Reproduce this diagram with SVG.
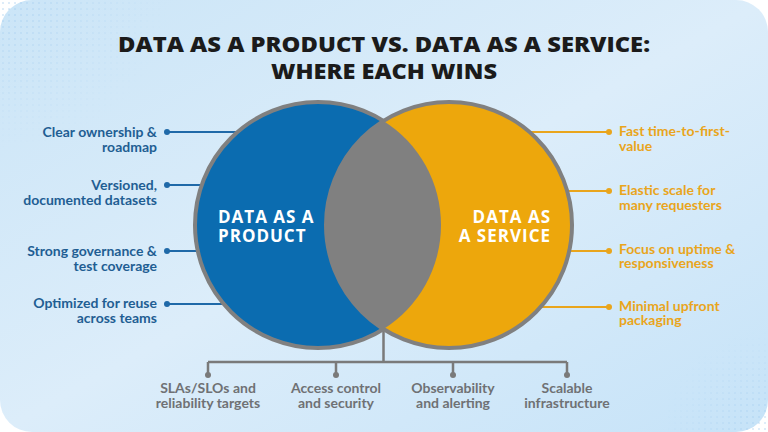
<svg xmlns="http://www.w3.org/2000/svg" width="768" height="432" viewBox="0 0 768 432">
<defs>
<linearGradient id="bg" x1="0" y1="0" x2="1" y2="1">
<stop offset="0" stop-color="#cbe5f7"/>
<stop offset="0.5" stop-color="#dcedfa"/>
<stop offset="1" stop-color="#c6e3f8"/>
</linearGradient>
<pattern id="dots" width="6" height="6" patternUnits="userSpaceOnUse">
<circle cx="3" cy="3" r="1" fill="#9cc8ee"/>
</pattern>
<radialGradient id="fadeTL" cx="0" cy="0" r="1">
<stop offset="0" stop-color="#fff" stop-opacity="0.8"/>
<stop offset="1" stop-color="#fff" stop-opacity="0"/>
</radialGradient>
<mask id="mTL"><rect x="0" y="0" width="170" height="150" fill="url(#fadeTL)"/></mask>
<radialGradient id="fadeBR" cx="1" cy="1" r="1">
<stop offset="0" stop-color="#fff" stop-opacity="0.8"/>
<stop offset="1" stop-color="#fff" stop-opacity="0"/>
</radialGradient>
<mask id="mBR"><rect x="660" y="330" width="108" height="102" fill="url(#fadeBR)"/></mask>
</defs>
<style>
.title{font-family:"Open Sans","Liberation Sans",sans-serif;font-weight:800;font-size:21px;fill:#1b1b1b;text-anchor:middle}
.lt{font-family:Lato,"Liberation Sans",sans-serif;font-weight:700;font-size:14px;fill:#1f5e93;text-anchor:end}
.rt{font-family:Lato,"Liberation Sans",sans-serif;font-weight:700;font-size:14px;fill:#e9a51c}
.bt{font-family:Lato,"Liberation Sans",sans-serif;font-weight:700;font-size:14px;fill:#6f7174;text-anchor:middle}
.ct{font-family:"Open Sans","Liberation Sans",sans-serif;font-weight:700;font-size:17px;fill:#ffffff;letter-spacing:1px}
.bl{stroke:#1f69a8;stroke-width:2;fill:none}
.ol{stroke:#e9a51c;stroke-width:2;fill:none}
.gl{stroke:#7a7a7a;stroke-width:2.5;fill:none}
.bd{fill:#1f69a8}
.od{fill:#e9a51c}
.gd{fill:#7a7a7a}
</style>
<rect x="0" y="0" width="768" height="432" fill="#ffffff"/>
<rect x="0" y="0" width="768" height="432" rx="32" fill="url(#bg)"/>
<rect x="0" y="0" width="170" height="150" fill="url(#dots)" mask="url(#mTL)" opacity="0.6"/>
<rect x="660" y="330" width="108" height="102" fill="url(#dots)" mask="url(#mBR)" opacity="0.6"/>

<g id="title">
<text class="title" x="384" y="52" textLength="532" lengthAdjust="spacingAndGlyphs">DATA AS A PRODUCT VS. DATA AS A SERVICE:</text>
<text class="title" x="384" y="79" textLength="226" lengthAdjust="spacingAndGlyphs">WHERE EACH WINS</text>
</g>

<g id="connectors">
<path class="bl" d="M167 132 H290 M167 185 H290 M167 251 H290 M167 304 H290"/>
<path class="ol" d="M609 132 H480 M609 191 H480 M609 251 H480 M609 307 H480"/>
<path class="gl" d="M383.5 329 V362 M208 362 H567 M208 362 V375 M336 362 V375 M453 362 V375 M567 362 V375"/>
<circle class="bd" cx="167" cy="132" r="3"/>
<circle class="bd" cx="167" cy="185" r="3"/>
<circle class="bd" cx="167" cy="251" r="3"/>
<circle class="bd" cx="167" cy="304" r="3"/>
<circle class="od" cx="609" cy="132" r="3"/>
<circle class="od" cx="609" cy="191" r="3"/>
<circle class="od" cx="609" cy="251" r="3"/>
<circle class="od" cx="609" cy="307" r="3"/>
<circle class="gd" cx="208" cy="375" r="3"/>
<circle class="gd" cx="336" cy="375" r="3"/>
<circle class="gd" cx="453" cy="375" r="3"/>
<circle class="gd" cx="567" cy="375" r="3"/>
</g>

<g id="product">
<circle cx="318" cy="225" r="123" fill="#0b6cb0" stroke="#808080" stroke-width="4"/>
<text class="ct" x="218" y="223">DATA AS A</text>
<text class="ct" x="218" y="242">PRODUCT</text>
</g>
<g id="service">
<circle cx="449" cy="225" r="123" fill="#eda70c" stroke="#808080" stroke-width="4"/>
<text class="ct" x="551" y="223" text-anchor="end">DATA AS</text>
<text class="ct" x="551" y="242" text-anchor="end">A SERVICE</text>
</g>
<g id="overlap">
<path d="M383.5 120.9 A123 123 0 0 1 383.5 329.1 A123 123 0 0 1 383.5 120.9 Z" fill="#808080"/>
</g>

<g id="left-labels">
<text class="lt" x="157" y="137">Clear ownership &amp;</text>
<text class="lt" x="157" y="152">roadmap</text>
<text class="lt" x="157" y="190">Versioned,</text>
<text class="lt" x="157" y="205">documented datasets</text>
<text class="lt" x="157" y="256">Strong governance &amp;</text>
<text class="lt" x="157" y="271">test coverage</text>
<text class="lt" x="157" y="308">Optimized for reuse</text>
<text class="lt" x="157" y="323">across teams</text>
</g>
<g id="right-labels">
<text class="rt" x="619" y="136">Fast time-to-first-</text>
<text class="rt" x="619" y="151">value</text>
<text class="rt" x="619" y="195">Elastic scale for</text>
<text class="rt" x="619" y="210">many requesters</text>
<text class="rt" x="619" y="254">Focus on uptime &amp;</text>
<text class="rt" x="619" y="268">responsiveness</text>
<text class="rt" x="619" y="311">Minimal upfront</text>
<text class="rt" x="619" y="325">packaging</text>
</g>
<g id="bottom-labels">
<text class="bt" x="208" y="393">SLAs/SLOs and</text>
<text class="bt" x="208" y="408">reliability targets</text>
<text class="bt" x="336" y="393">Access control</text>
<text class="bt" x="336" y="408">and security</text>
<text class="bt" x="453" y="393">Observability</text>
<text class="bt" x="453" y="408">and alerting</text>
<text class="bt" x="567" y="393">Scalable</text>
<text class="bt" x="567" y="408">infrastructure</text>
</g>
</svg>
